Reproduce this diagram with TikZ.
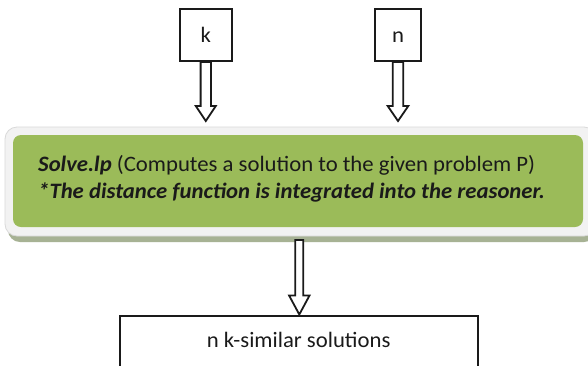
\documentclass[tikz,border=0pt]{standalone}
\usepackage{fontspec}
\setmainfont{Carlito}
\usetikzlibrary{calc}
\definecolor{boxgreen}{HTML}{9BBB59}
\definecolor{framegray}{HTML}{F2F2F2}
\definecolor{frameedge}{HTML}{D9D9D9}
\definecolor{shadowc}{HTML}{A7B294}
\definecolor{ink}{HTML}{1A1A1A}
\newcommand\hollowarrow[5]{%
  \path[arrowline] let \p1=(#1), \p2=(#2) in
    (\x1-#3pt,\y1) -- (\x1-#3pt,\y2+#5pt) -- (\x1-#4pt,\y2+#5pt) -- (\x1,\y2)
    -- (\x1+#4pt,\y2+#5pt) -- (\x1+#3pt,\y2+#5pt) -- (\x1+#3pt,\y1) -- cycle;}
\newcommand\wide[1]{\scalebox{1.033}[1]{#1}}
\begin{document}
\begin{tikzpicture}[x=1pt,y=-1pt,
  inbox/.style={draw=ink, line width=2pt, fill=white, inner sep=0pt,
    font=\fontsize{22}{26}\selectfont, text=ink},
  arrowline/.style={draw=ink, line width=1.8pt, fill=white, line join=miter},
  greenbox/.style={fill=boxgreen, draw=none, rounded corners=8pt, inner sep=0pt},
  bodytext/.style={font=\fontsize{22}{27}\selectfont, text=ink, inner sep=0pt}]
\useasboundingbox (0,0) rectangle (588,365);
\clip (0,0) rectangle (588,365);
\fill[white] (0,0) rectangle (588,365);
% frame with shadow
\fill[shadowc, rounded corners=12pt] (8,133) rectangle (596,242);
\filldraw[fill=framegray, draw=frameedge, line width=0.8pt, rounded corners=12pt] (5,127) rectangle (596,236);
\node[greenbox, minimum width=570, minimum height=92] (solve) at (298,181) {};
\node[bodytext, anchor=base west] (line1) at (38,171)
  {\wide{\textbf{\textit{Solve.lp}} (Computes a solution to the given problem P)}};
\node[bodytext, anchor=base west] (line2) at (38,198)
  {\wide{\textbf{\textit{*The distance function is integrated into the reasoner.}}}};
% input boxes
\node[inbox, minimum width=52.5, text height=32.7, text depth=19, anchor=base] (k) at (205.8,42) {\wide{k}};
\node[inbox, minimum width=46.7, text height=32.7, text depth=19, anchor=base] (n) at (398,42) {\wide{n}};
% output box
\node[inbox, minimum width=358.3, text height=31.5, text depth=53, anchor=base] (sol) at (298.7,347) {\wide{n k-similar solutions}};
% arrows
\coordinate (ktip) at (205.8,121);
\coordinate (ntip) at (398,121);
\coordinate (sstart) at (299.3,240);
\hollowarrow{k.south}{ktip}{5.2}{10}{15}
\hollowarrow{n.south}{ntip}{5.3}{10.3}{15}
\hollowarrow{sstart}{sol.north}{4}{10.2}{19}
\end{tikzpicture}
\end{document}
